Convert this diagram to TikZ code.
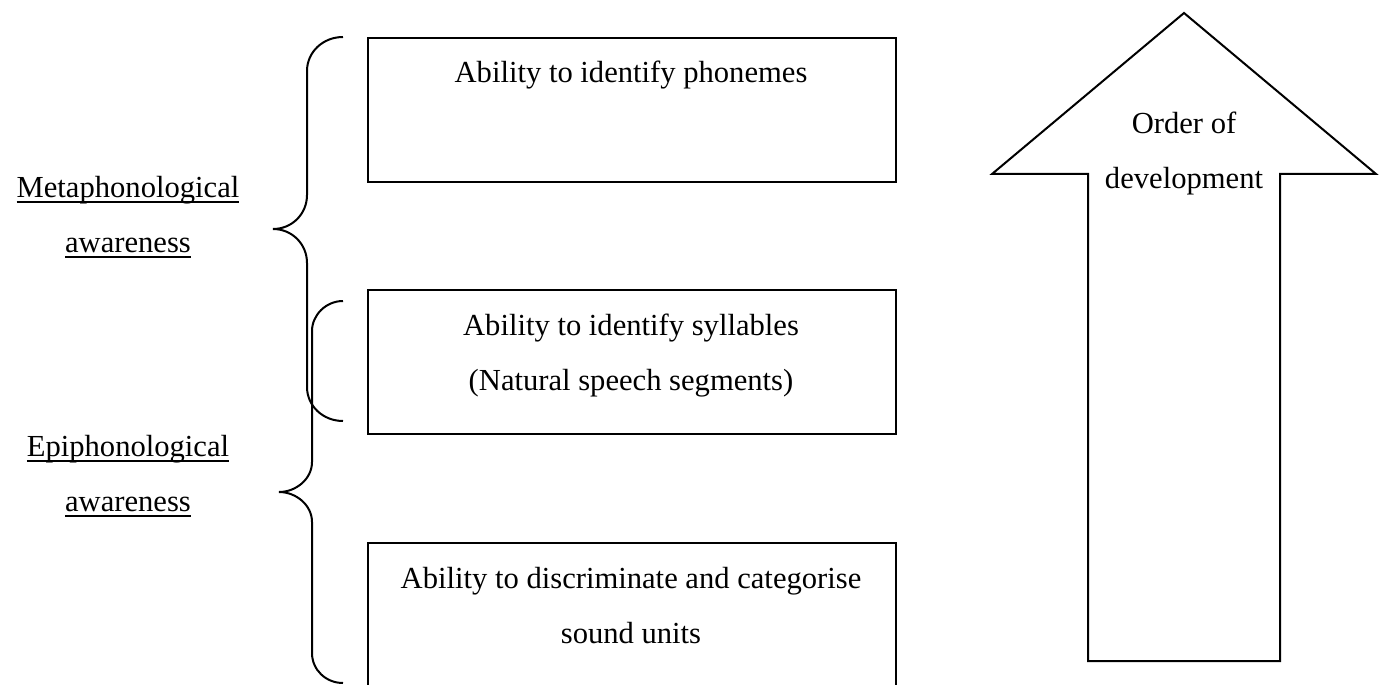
\documentclass[tikz,border=0pt]{standalone}
\usepackage{fontspec}
\setmainfont{Liberation Serif}
\usetikzlibrary{positioning}

\newcommand\uln[1]{\setbox0\hbox{#1}\rlap{\rule[-2.8pt]{\wd0}{0.8pt}}\box0}

\tikzset{
  box/.style={draw, anchor=north west, minimum width=264pt, minimum height=72pt, inner sep=0pt},
  txt/.style={align=center, inner sep=0pt, anchor=base, font=\fontsize{15.3}{27.5}\selectfont},
}

\begin{document}
\begin{tikzpicture}[x=0.5pt, y=-0.5pt, line width=1pt]
    \useasboundingbox (0,0) rectangle (1384,684);

    % boxes
    \node[box] (phon) at (367,37) {};
    \node[box] (syll) at (367,289) {};
    \node[box, minimum height=80pt] (sound) at (367,542) {};

    \node[txt] (phontxt) at (631,83) {Ability to identify phonemes};
    \node[txt] (sylltxt) at (631,390) {Ability to identify syllables\\(Natural speech segments)};
    \node[txt] (soundtxt) at (631,643) {Ability to discriminate and categorise\\sound units};

    % braces
    \draw (343,37) .. controls (323,37) and (307,52) .. (307,71) -- (307,195)
        .. controls (307,214) and (292,229) .. (273,229)
        .. controls (292,229) and (307,244) .. (307,263) -- (307,387)
        .. controls (307,406) and (323,421) .. (343,421);
    \draw (343,301) .. controls (326,301) and (312,315) .. (312,331) -- (312,462)
        .. controls (312,479) and (296,492) .. (279,492)
        .. controls (296,492) and (312,505) .. (312,522) -- (312,653)
        .. controls (312,670) and (326,683) .. (343,683);

    \node[txt] (meta) at (128,252) {\uln{Metaphonological}\\\uln{awareness}};
    \node[txt] (epi) at (128,511) {\uln{Epiphonological}\\\uln{awareness}};

    % arrow
    \draw (1088,661) -- (1088,174) -- (992,174) -- (1184,13) -- (1376,174)
        -- (1280,174) -- (1280,661) -- cycle;
    \node[txt] (order) at (1184,189) {Order of\\development};
\end{tikzpicture}
\end{document}
